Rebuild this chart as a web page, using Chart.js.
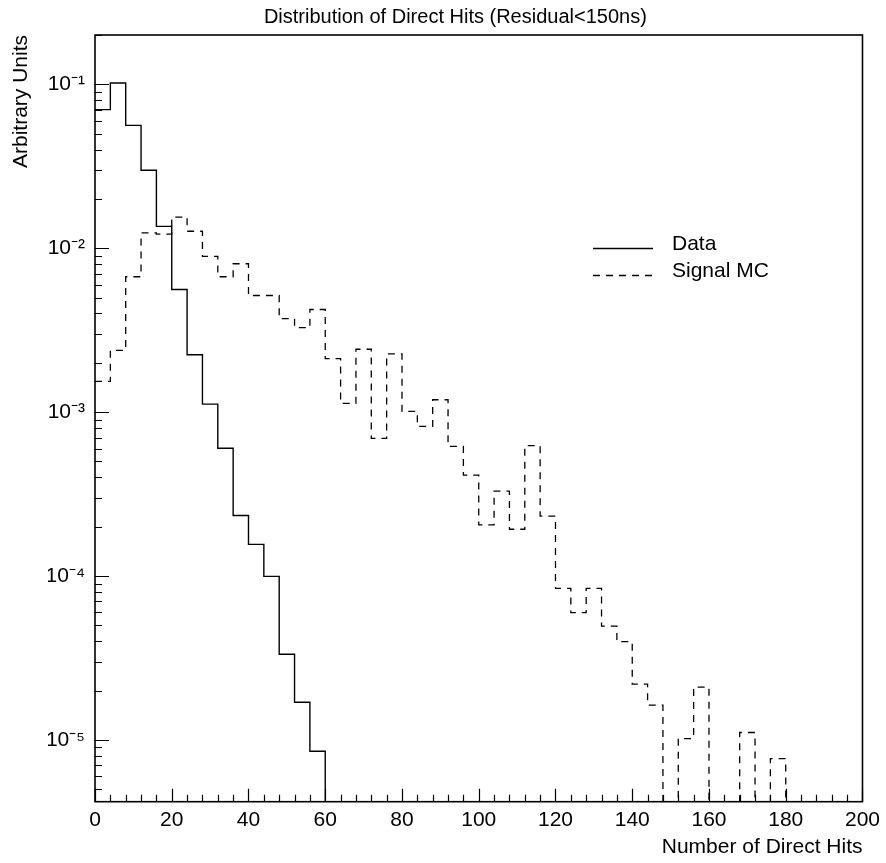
<!DOCTYPE html>
<html><head><meta charset="utf-8">
<script src="https://cdn.jsdelivr.net/npm/chart.js@4.4.0/dist/chart.umd.min.js"></script>
<style>html,body{margin:0;padding:0;background:#fff}canvas{display:block}</style>
</head><body>
<canvas id="c" width="886" height="863"></canvas>
<script>
// ---- data ----
const binEdges = [0,4,8,12,16,20,24,28,32,36,40,44,48,52,56,60,64,68,72,76,80,84,88,92,96,100,
  104,108,112,116,120,124,128,132,136,140,144,148,152,156,160,164,168,172,176,180,184,188,192,196,200];
const dataHits = [0.0701,0.102,0.0562,0.0299,0.0136,0.0056,0.00224,0.00112,0.000602,0.000234,
  0.000156,0.0000996,0.0000333,0.0000170,0.00000853,0,0,0,0,0,
  0,0,0,0,0,0,0,0,0,0,0,0,0,0,0,0,0,0,0,0,0,0,0,0,0,0,0,0,0,0];
const signalMC = [0.00154,0.00238,0.0067,0.0124,0.0122,0.0155,0.0127,0.00893,0.0067,0.00804,
  0.00515,0.00515,0.00372,0.00328,0.00423,0.00212,0.00113,0.00242,0.000692,0.00227,
  0.00101,0.000818,0.00119,0.000618,0.000413,0.000205,0.00033,0.000193,0.000624,0.000232,
  0.0000841,0.0000598,0.0000841,0.0000495,0.0000398,0.0000219,0.0000163,0,0.0000102,0.000021,
  0,0,0.0000111,0,0.0000077,0,0,0,0,0];
const xTickValues = [0,20,40,60,80,100,120,140,160,180,200];
const xTickLabels = ['0','20','40','60','80','100','120','140','160','180','200'];
const yTickValues = [1e-5,1e-4,1e-3,1e-2,1e-1];
const yTickLabels = ['10\u207B\u2075','10\u207B\u2074','10\u207B\u00B3','10\u207B\u00B2','10\u207B\u00B9'];
const seriesNames = ['Data','Signal MC'];
const Y_MIN = 4.2e-6, Y_MAX = 0.2;

// histogram outline points (zero bins drop to the axis floor)
function steps(vals){
  const pts = vals.map((v,i)=>({x: binEdges[i], y: v > 0 ? v : Y_MIN}));
  pts.push({x: binEdges[vals.length], y: vals[vals.length-1] > 0 ? vals[vals.length-1] : Y_MIN});
  return pts;
}

const FONT = '"Liberation Sans", Arial, sans-serif';
Chart.defaults.font.family = FONT;
Chart.defaults.color = '#000';

const frameTicks = {
  id: 'frameTicks',
  afterDatasetsDraw(chart){
    const {ctx, chartArea: a, scales: {x, y}} = chart;
    ctx.save();
    ctx.strokeStyle = '#000';
    ctx.lineWidth = 1.2;
    ctx.beginPath();
    binEdges.forEach(v=>{
      const px = Math.round(x.getPixelForValue(v)) + 0.5;
      const len = (v % 20 === 0) ? 13 : 7;
      ctx.moveTo(px, a.bottom); ctx.lineTo(px, a.bottom - len);
    });
    for (let e = -6; e <= -1; e++){
      for (let m = 1; m <= 9; m++){
        const v = m * Math.pow(10, e);
        if (v < Y_MIN || v > Y_MAX) continue;
        const py = Math.round(y.getPixelForValue(v)) + 0.5;
        const len = m === 1 ? 14 : 7;
        ctx.moveTo(a.left, py); ctx.lineTo(a.left + len, py);
      }
    }
    ctx.stroke();
    ctx.lineWidth = 1.6;
    ctx.strokeRect(a.left, a.top, a.right - a.left, a.bottom - a.top);
    ctx.restore();
  }
};

const legendPlugin = {
  id: 'histLegend',
  afterDraw(chart){
    const {ctx} = chart;
    const rows = [250, 277];
    ctx.save();
    chart.data.datasets.forEach((ds, i)=>{
      const yb = rows[i];
      ctx.strokeStyle = ds.borderColor;
      ctx.lineWidth = ds.borderWidth;
      ctx.setLineDash(ds.borderDash || []);
      ctx.beginPath();
      ctx.moveTo(593, yb - 1.5); ctx.lineTo(653, yb - 1.5);
      ctx.stroke();
      ctx.setLineDash([]);
      ctx.fillStyle = '#000';
      ctx.font = '21px ' + FONT;
      ctx.textBaseline = 'alphabetic';
      ctx.fillText(ds.label, 672, yb);
    });
    ctx.restore();
  }
};

new Chart(document.getElementById('c'), {
  type: 'line',
  data: {
    datasets: [
      {label: seriesNames[0], data: steps(dataHits), stepped: 'before', borderColor: '#000',
       borderWidth: 1.4, pointRadius: 0, fill: false},
      {label: seriesNames[1], data: steps(signalMC), stepped: 'before', borderColor: '#000',
       borderWidth: 1.3, borderDash: [7, 6], pointRadius: 0, fill: false}
    ]
  },
  options: {
    responsive: false,
    animation: false,
    devicePixelRatio: 1,
    layout: {padding: {left: 48, right: 23.3, top: 0, bottom: 0}},
    plugins: {
      legend: {display: false},
      tooltip: {enabled: false},
      title: {display: true, text: 'Distribution of Direct Hits (Residual<150ns)',
        font: {size: 20, weight: 'normal'}, color: '#000', padding: {top: 5, bottom: 6}}
    },
    scales: {
      x: {
        type: 'linear', position: 'bottom', min: 0, max: 200,
        grid: {display: false, drawTicks: false}, border: {display: false},
        afterBuildTicks: s => { s.ticks = xTickValues.map(v=>({value: v})); },
        afterFit: s => { s.height = 61.3; },
        ticks: {autoSkip: false, maxRotation: 0, padding: 6, font: {size: 21},
          callback: (v) => { const i = xTickValues.indexOf(v); return i >= 0 ? xTickLabels[i] : ''; }},
        title: {display: true, text: 'Number of Direct Hits', align: 'end',
          font: {size: 21}, padding: {top: 0, bottom: 3.4}}
      },
      y: {
        type: 'logarithmic', position: 'left', min: Y_MIN, max: Y_MAX,
        grid: {display: false, drawTicks: false}, border: {display: false},
        afterBuildTicks: s => { s.ticks = yTickValues.map(v=>({value: v})); },
        afterFit: s => { s.width = 47; },
        ticks: {autoSkip: false, padding: 10, font: {size: 21},
          callback: (v) => {
            const i = yTickValues.findIndex(t => Math.abs(Math.log10(t) - Math.log10(v)) < 1e-6);
            return i >= 0 ? yTickLabels[i] : '';
          }},
        title: {display: true, text: 'Arbitrary Units', align: 'end',
          font: {size: 21}, padding: {top: -39.6, bottom: 0}}
      }
    }
  },
  plugins: [frameTicks, legendPlugin]
});
</script>
</body></html>
